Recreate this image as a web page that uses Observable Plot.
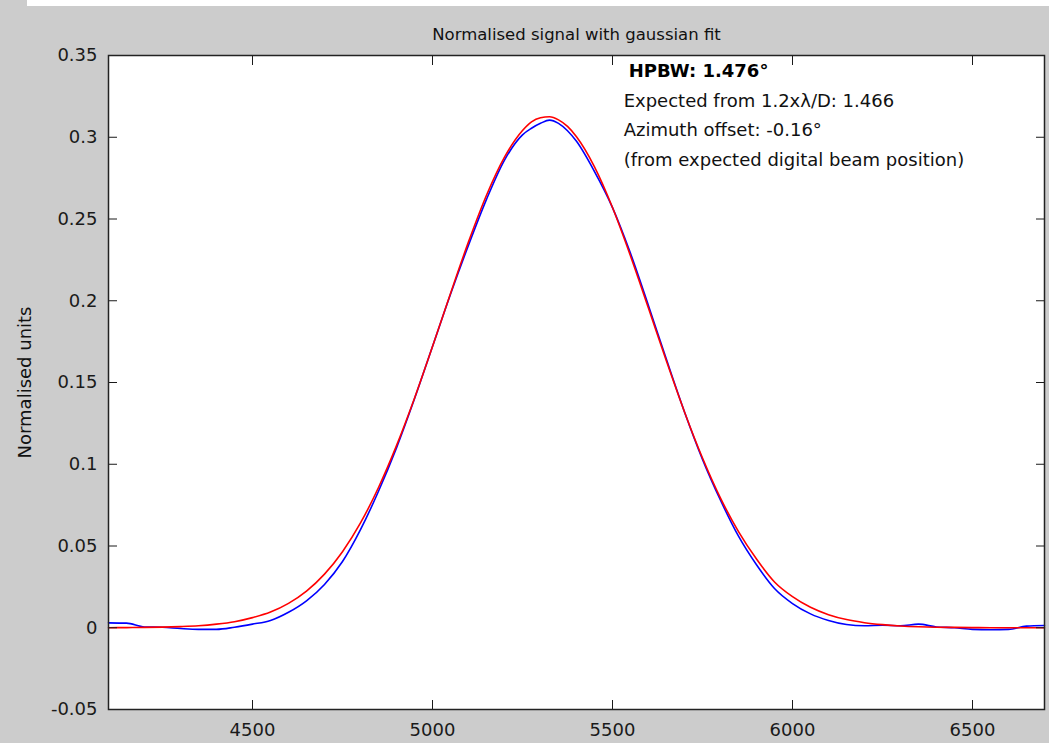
<!DOCTYPE html>
<html>
<head>
<meta charset="utf-8">
<script src="https://cdn.jsdelivr.net/npm/d3@7"></script>
<script src="https://cdn.jsdelivr.net/npm/@observablehq/plot@0.6"></script>
<style>
  html, body { margin: 0; padding: 0; background: #cccccc; width: 1049px; height: 743px; overflow: hidden; }
  #strip { position: absolute; left: 27px; top: 0; width: 1022px; height: 6px; background: #ffffff; z-index: 2; }
  #chart { position: absolute; left: 0; top: 0; }
</style>
</head>
<body>
<div id="strip"></div>
<div id="chart"></div>
<script>
const title = "Normalised signal with gaussian fit";
const yLabel = "Normalised units";

const xTicks = [4500, 5000, 5500, 6000, 6500];
const yTicks = [-0.05, 0, 0.05, 0.1, 0.15, 0.2, 0.25, 0.3, 0.35];

const position = [4100, 4150, 4200, 4250, 4300, 4350, 4400, 4450, 4500, 4550,
  4600, 4650, 4700, 4750, 4800, 4850, 4900, 4950, 5000, 5050,
  5100, 5150, 5200, 5250, 5275, 5300, 5325, 5350, 5375, 5400, 5450, 5500, 5550,
  5600, 5650, 5700, 5750, 5800, 5850, 5900, 5950, 6000, 6050,
  6100, 6150, 6200, 6250, 6300, 6350, 6400, 6450, 6500, 6550,
  6600, 6650, 6700];

const signal = [0.0030, 0.0028, 0.0005, 0.0003, -0.0005, -0.0010, -0.0010, 0.0003, 0.0022, 0.0045,
  0.0095, 0.0165, 0.0265, 0.0405, 0.0600, 0.0835, 0.1100, 0.1400, 0.1720, 0.2040,
  0.2340, 0.2620, 0.2860, 0.3015, 0.3055, 0.3085, 0.3105, 0.3085, 0.3040, 0.2975, 0.2790, 0.2570, 0.2290,
  0.1970, 0.1640, 0.1320, 0.1030, 0.0780, 0.0560, 0.0385, 0.0240, 0.0148, 0.0085,
  0.0045, 0.0020, 0.0012, 0.0016, 0.0012, 0.0022, 0.0005, 0.0000, -0.0010, -0.0012,
  -0.0010, 0.0010, 0.0014];

const gaussFit = [0.0000, 0.0001, 0.0002, 0.0004, 0.0007, 0.0012, 0.0022, 0.0037, 0.0062, 0.0096,
  0.0149, 0.0224, 0.0328, 0.0465, 0.0641, 0.0858, 0.1114, 0.1404, 0.1720, 0.2045,
  0.2360, 0.2645, 0.2878, 0.3041, 0.3094, 0.3119, 0.3125, 0.3106, 0.3066, 0.3003, 0.2819, 0.2570, 0.2274,
  0.1954, 0.1630, 0.1320, 0.1038, 0.0793, 0.0588, 0.0420, 0.0280, 0.0190, 0.0125,
  0.0080, 0.0050, 0.0031, 0.0019, 0.0011, 0.0006, 0.0003, 0.0002, 0.0001, 0.0000,
  0.0000, 0.0000, 0.0000];

const annText = ["HPBW: 1.476°", "Expected from 1.2xλ/D: 1.466", "Azimuth offset: -0.16°", "(from expected digital beam position)"];
const annBold = [true, false, false, false];
const annX = [5545, 5531, 5531, 5531];
const annY = [0.3405, 0.3222, 0.3041, 0.2858];

const signalData = position.map((x, i) => ({x, y: signal[i]}));
const fitData = position.map((x, i) => ({x, y: gaussFit[i]}));
const annData = annText.map((t, i) => ({t, x: annX[i], y: annY[i], bold: annBold[i]}));

const fmt = d => String(d);

const chart = Plot.plot({
  width: 1049,
  height: 743,
  marginLeft: 108,
  marginRight: 5,
  marginTop: 55,
  marginBottom: 34,
  style: {background: "#cccccc", fontFamily: "'DejaVu Sans', sans-serif", fontSize: "18px", color: "#1a1a1a"},
  x: {domain: [4100, 6700]},
  y: {domain: [-0.05, 0.35]},
  marks: [
    Plot.frame({fill: "#ffffff", stroke: null}),
    Plot.line(signalData, {x: "x", y: "y", stroke: "#0000ff", strokeWidth: 1.6, curve: "monotone-x"}),
    Plot.line(fitData, {x: "x", y: "y", stroke: "#ff0000", strokeWidth: 1.6, curve: "monotone-x"}),
    Plot.axisX(xTicks, {anchor: "bottom", tickSize: -9, tickPadding: 23, tickFormat: fmt, label: null, fontSize: 18}),
    Plot.axisX(xTicks, {anchor: "top", tickSize: -9, fill: "none", label: null}),
    Plot.axisY(yTicks, {anchor: "left", tickSize: -9, tickPadding: 20, tickFormat: fmt, label: null, fontSize: 18}),
    Plot.axisY(yTicks, {anchor: "right", tickSize: -9, fill: "none", label: null}),
    Plot.frame({stroke: "#222222", strokeWidth: 1.5}),
    Plot.text([title], {frameAnchor: "top", dy: -27, fontSize: 16.5, fill: "#111111"}),
    Plot.text([yLabel], {frameAnchor: "left", textAnchor: "middle", rotate: -90, dx: -83, fontSize: 18, fill: "#111111"}),
    Plot.text(annData.filter(d => d.bold), {x: "x", y: "y", text: "t", textAnchor: "start", fontWeight: "bold", fontSize: 18, fill: "#000000"}),
    Plot.text(annData.filter(d => !d.bold), {x: "x", y: "y", text: "t", textAnchor: "start", fontSize: 18, fill: "#111111"})
  ]
});
document.getElementById("chart").appendChild(chart);
</script>
</body>
</html>
